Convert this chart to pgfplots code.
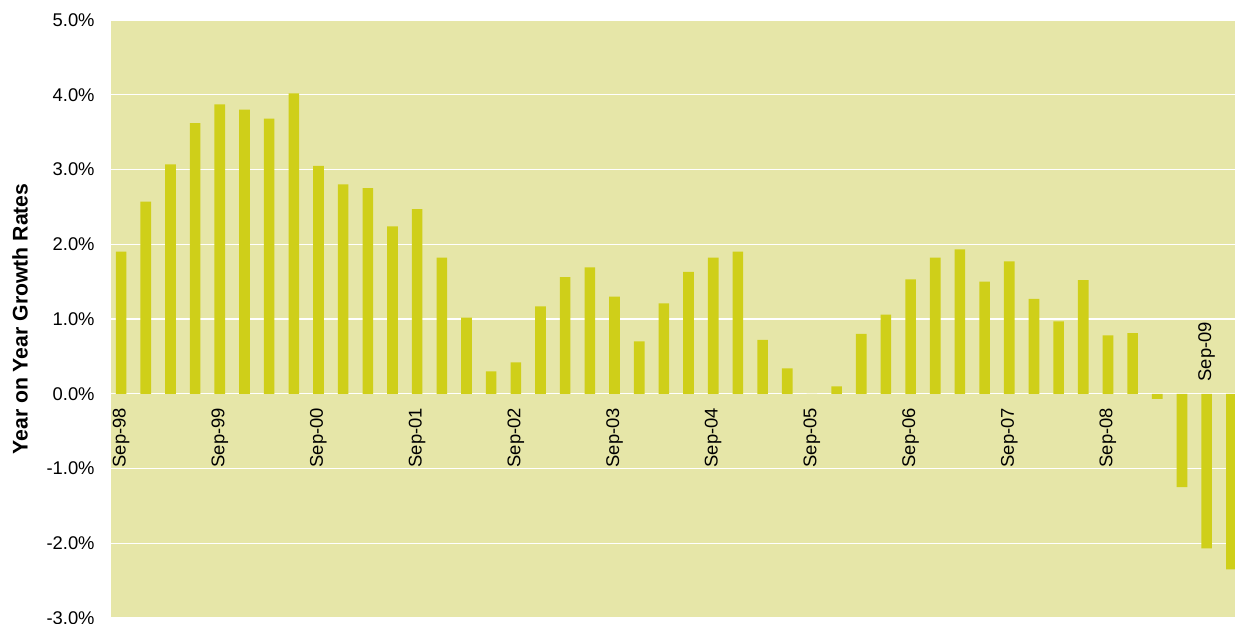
\documentclass[border=0pt]{standalone}
\usepackage{fontspec}
\setmainfont{Liberation Sans}
\usepackage{pgfplots}
\pgfplotsset{compat=1.18}
\definecolor{bgc}{RGB}{230,230,168}
\definecolor{barc}{RGB}{207,207,25}
\begin{document}
\begin{tikzpicture}
\path[use as bounding box] (-55.5pt,-2.5pt) rectangle (562pt,309pt);
\begin{axis}[
  at={(0,0)}, anchor=south west,
  scale only axis, width=562pt, height=299pt,
  xmin=-0.41, xmax=45.15,
  ymin=-3, ymax=5,
  ytick={-3,-2,-1,0,1,2,3,4,5},
  yticklabels={-3.0\%,-2.0\%,-1.0\%,0.0\%,1.0\%,2.0\%,3.0\%,4.0\%,5.0\%},
  xtick=\empty,
  major tick length=0pt,
  axis line style={draw=none},
  axis background/.style={fill=bgc},
  ymajorgrids, grid style={white, line width=0.6pt},
  yticklabel style={font=\fontsize{9.2}{11}\selectfont, anchor=east, inner sep=0pt, xshift=-8pt},
  ylabel={\textbf{Year on Year Growth Rates}},
  ylabel style={font=\fontsize{10.6}{12}\selectfont, at={(axis description cs:0,0.5)}, anchor=center, yshift=45.5pt},
  ybar, bar width=0.43,
  clip=true,
]
\addplot[fill=barc, draw=none] coordinates {
(0,1.90) (1,2.57) (2,3.07) (3,3.62)
(4,3.87) (5,3.80) (6,3.68) (7,4.02)
(8,3.05) (9,2.80) (10,2.75) (11,2.24)
(12,2.47) (13,1.82) (14,1.02) (15,0.30)
(16,0.42) (17,1.17) (18,1.56) (19,1.69)
(20,1.30) (21,0.70) (22,1.21) (23,1.63)
(24,1.82) (25,1.90) (26,0.72) (27,0.34)
(28,0.00) (29,0.10) (30,0.80) (31,1.06)
(32,1.53) (33,1.82) (34,1.93) (35,1.50)
(36,1.77) (37,1.27) (38,0.97) (39,1.52)
(40,0.78) (41,0.81) (42,-0.07) (43,-1.25)
(44,-2.07) (45,-2.35)
};
\foreach \i/\lab in {0/Sep-98,4/Sep-99,8/Sep-00,12/Sep-01,16/Sep-02,20/Sep-03,24/Sep-04,28/Sep-05,32/Sep-06,36/Sep-07,40/Sep-08} {
  \edef\tmp{\noexpand\node[yshift=-7pt, rotate=90, anchor=east, inner sep=0pt, font=\noexpand\fontsize{9.2}{11}\noexpand\selectfont] at (axis cs:\i,0) {\lab};}
  \tmp
}
\node[yshift=6pt, rotate=90, anchor=west, inner sep=0pt, font=\fontsize{9.2}{11}\selectfont] at (axis cs:44,0) {Sep-09};
\end{axis}
\end{tikzpicture}
\end{document}
